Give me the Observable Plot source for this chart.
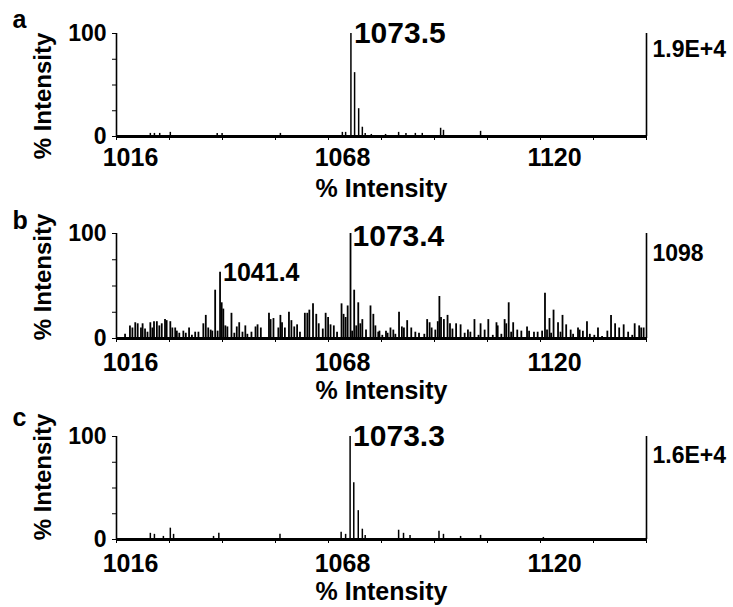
<!DOCTYPE html>
<html><head><meta charset="utf-8">
<script src="https://cdn.jsdelivr.net/npm/d3@7"></script>
<script src="https://cdn.jsdelivr.net/npm/@observablehq/plot@0.6"></script>
<style>
html,body{margin:0;padding:0;background:#fff;overflow:hidden;}
#chart{width:733px;}
#chart svg{display:block;}
</style></head><body><div id="chart"></div>
<script>
// ---------- data ----------
const panelLetters = ["a", "b", "c"];
const peakLabels = ["1073.5", "1073.4", "1073.3"];
const scaleLabels = ["1.9E+4", "1098", "1.6E+4"];
const xDomain = [1016, 1146];
const xMajorTicks = [1016, 1068, 1120];
const xMinorTicks = [1016, 1029, 1042, 1055, 1068, 1081, 1094, 1107, 1120, 1133, 1146];
const yTicks = [0, 25, 50, 75, 100];
const yTickLabels = [0, 100];
const axisLabel = "% Intensity";

// panel a
const mzA = [1024.3, 1025.3, 1026.6, 1029.2, 1040.7, 1041.9, 1056.2, 1071.4, 1072.2, 1073.5, 1074.4, 1075.4, 1076.3, 1077.0, 1078.5, 1082.0, 1085.2, 1087.0, 1089.3, 1091.0, 1095.5, 1096.2, 1105.3];
const intA = [3, 3, 3, 4, 3, 3, 3, 4, 4, 100, 62, 27, 9, 3, 2, 2, 4, 3, 3, 3, 8, 6, 5];

// panel b
const mzB = [1018.1, 1019.3, 1019.9, 1020.6, 1021.2, 1022.0, 1022.4, 1023.0, 1023.6, 1024.3, 1024.8, 1025.2, 1025.9, 1026.5, 1027.1, 1027.9, 1028.3, 1029.2, 1029.7, 1030.4,
  1030.8, 1031.4, 1032.4, 1033.0, 1033.8, 1034.5, 1035.3, 1036.1, 1037.3, 1037.9, 1038.5, 1039.1, 1039.5, 1040.2, 1040.8, 1041.4, 1041.8, 1042.2, 1042.7, 1043.2,
  1044.2, 1044.9, 1045.5, 1046.1, 1046.9, 1047.6, 1048.1, 1049.1, 1050.1, 1050.6, 1051.4, 1053.4, 1053.8, 1054.5, 1055.7, 1056.2, 1056.6, 1057.3, 1058.3, 1058.9,
  1059.6, 1060.3, 1061.0, 1062.2, 1062.8, 1063.3, 1064.2, 1065.0, 1065.6, 1066.6, 1067.3, 1067.9, 1068.5, 1069.3, 1070.1, 1071.2, 1071.7, 1072.2, 1072.7, 1073.4,
  1073.8, 1074.3, 1074.8, 1075.3, 1075.8, 1076.3, 1077.2, 1078.3, 1079.0, 1079.5, 1080.2, 1080.5, 1081.2, 1082.1, 1082.5, 1083.2, 1083.9, 1084.4, 1085.3, 1086.0,
  1086.5, 1087.3, 1088.3, 1089.3, 1090.2, 1091.5, 1092.2, 1092.8, 1093.3, 1094.2, 1094.8, 1095.2, 1095.6, 1096.3, 1097.2, 1097.8, 1098.4, 1099.3, 1100.4, 1101.4,
  1102.2, 1102.8, 1103.8, 1104.8, 1105.3, 1106.3, 1107.2, 1108.3, 1109.2, 1109.5, 1110.4, 1111.2, 1111.6, 1112.2, 1112.8, 1113.3, 1114.3, 1115.3, 1116.7, 1117.2,
  1118.4, 1119.3, 1120.4, 1121.1, 1121.6, 1122.2, 1122.6, 1123.2, 1124.3, 1124.9, 1125.4, 1126.3, 1127.4, 1128.0, 1129.2, 1129.6, 1130.4, 1131.4, 1132.1, 1133.2,
  1134.1, 1135.1, 1136.4, 1137.3, 1138.3, 1139.3, 1140.4, 1141.5, 1142.5, 1143.1, 1144.2, 1144.7, 1145.3];
const intB = [4, 12, 10, 15, 14, 10, 14, 9, 6, 15, 10, 16, 16, 12, 14, 18, 17, 16, 10, 10,
  7, 5, 7, 5, 10, 3, 6, 6, 14, 22, 10, 8, 7, 46, 7, 63, 34, 28, 12, 11,
  24, 5, 11, 15, 6, 12, 4, 6, 11, 13, 10, 24, 18, 19, 10, 22, 15, 10, 25, 17,
  11, 13, 6, 24, 24, 27, 33, 23, 14, 9, 24, 20, 13, 12, 6, 33, 23, 20, 31, 100,
  7, 46, 12, 34, 14, 18, 8, 31, 23, 12, 6, 7, 3, 7, 5, 10, 8, 4, 25, 11,
  10, 17, 10, 6, 5, 4, 18, 15, 10, 8, 16, 40, 20, 18, 22, 14, 9, 14, 13, 5,
  8, 6, 18, 3, 14, 8, 18, 3, 15, 12, 4, 18, 14, 34, 6, 15, 8, 7, 11, 7,
  6, 6, 7, 43, 8, 19, 5, 27, 15, 6, 22, 13, 8, 4, 10, 8, 7, 16, 4, 3,
  10, 2, 7, 22, 14, 10, 13, 6, 3, 14, 12, 10, 10];

// panel c
const mzC = [1024.3, 1025.3, 1027.5, 1029.2, 1030.0, 1039.8, 1041.1, 1056.1, 1071.1, 1072.2, 1073.3, 1074.2, 1075.3, 1076.3, 1077.0, 1085.2, 1086.4, 1088.0, 1095.1, 1096.2, 1100.4, 1105.3, 1120.7];
const intC = [6, 5, 3, 11, 5, 3, 6, 5, 7, 5, 100, 55, 28, 10, 4, 9, 6, 4, 8, 5, 3, 4, 2];

// second labelled peak in panel b
const extraLabelB = {mz: 1041.4, label: "1041.4"};

// ---------- layout ----------
const layouts = [
  {height: 200, top: 33, bottom: 64, letterDy: -6, ylabDy: 11, xtickPad: 12, scaleDy: 16, peakDy: 9, peakDx: 3, ruleW: 1.5},
  {height: 200, top: 33, bottom: 62, letterDy: -5, ylabDy: -9, xtickPad: 15, scaleDy: 20, peakDy: 12, peakDx: 2, ruleW: 1.8},
  {height: 207, top: 36, bottom: 68, letterDy: -11, ylabDy: -11, xtickPad: 15, scaleDy: 19, peakDy: 9, peakDx: 3, ruleW: 1.5}
];

const series = [[mzA, intA], [mzB, intB], [mzC, intC]];
const font = "'Liberation Sans', Arial, Helvetica, sans-serif";

series.forEach(([mz, inten], i) => {
  const L = layouts[i];
  const data = mz.map((m, j) => ({mz: m, int: inten[j]}));
  const top = data.reduce((a, b) => (b.int > a.int ? b : a));
  const labelled = [{...top, label: peakLabels[i]}];
  const marks = [
    Plot.ruleY([0], {stroke: "black", strokeWidth: 2.8}),
    Plot.ruleX(data, {x: "mz", y1: 0, y2: "int", stroke: "black", strokeWidth: L.ruleW}),
    Plot.ruleX(xDomain, {stroke: "black", strokeWidth: 1.6}),
    Plot.axisY({ticks: yTicks, tickSize: 4, tickPadding: 6, tickFormat: d => (yTickLabels.includes(d) ? String(d) : ""), fontSize: 23, fontWeight: "bold", label: null}),
    Plot.axisX({ticks: xMinorTicks, tickSize: 4, tickFormat: () => "", label: null}),
    Plot.axisX({ticks: xMajorTicks, tickSize: 0, tickPadding: L.xtickPad, dx: 14, tickFormat: d => String(d), fontSize: 25, fontWeight: "bold", label: null}),
    Plot.text([axisLabel], {frameAnchor: "bottom", text: d => d, dy: 52, textAnchor: "middle", lineAnchor: "middle", fontSize: 25, fontWeight: "bold"}),
    Plot.text([axisLabel], {frameAnchor: "left", text: d => d, rotate: -90, dx: -73, dy: L.ylabDy, textAnchor: "middle", lineAnchor: "middle", fontSize: 24, fontWeight: "bold"}),
    Plot.text([panelLetters[i]], {frameAnchor: "top-left", text: d => d, dx: -104, dy: L.letterDy, textAnchor: "start", lineAnchor: "bottom", fontSize: 25, fontWeight: "bold"}),
    Plot.text([scaleLabels[i]], {frameAnchor: "top-right", text: d => d, dx: 6, dy: L.scaleDy, textAnchor: "start", lineAnchor: "middle", fontSize: 23, fontWeight: "bold"}),
    Plot.text(labelled, {x: "mz", y: "int", text: "label", textAnchor: "start", lineAnchor: "bottom", dx: L.peakDx, dy: L.peakDy, fontSize: 30, fontWeight: "bold"})
  ];
  if (i === 1) {
    const p = data.find(d => d.mz === extraLabelB.mz);
    marks.push(Plot.text([{...p, label: extraLabelB.label}], {x: "mz", y: "int", text: "label", textAnchor: "start", lineAnchor: "bottom", dx: 3, dy: 9, fontSize: 25, fontWeight: "bold"}));
  }
  const svg = Plot.plot({
    width: 733,
    height: L.height,
    marginLeft: 116,
    marginRight: 87,
    marginTop: L.top,
    marginBottom: L.bottom,
    x: {domain: xDomain},
    y: {domain: [0, 100]},
    style: {fontFamily: font, fontWeight: "bold", color: "black", background: "white", overflow: "visible"},
    marks
  });
  document.getElementById("chart").appendChild(svg);
});
</script>
</body></html>
